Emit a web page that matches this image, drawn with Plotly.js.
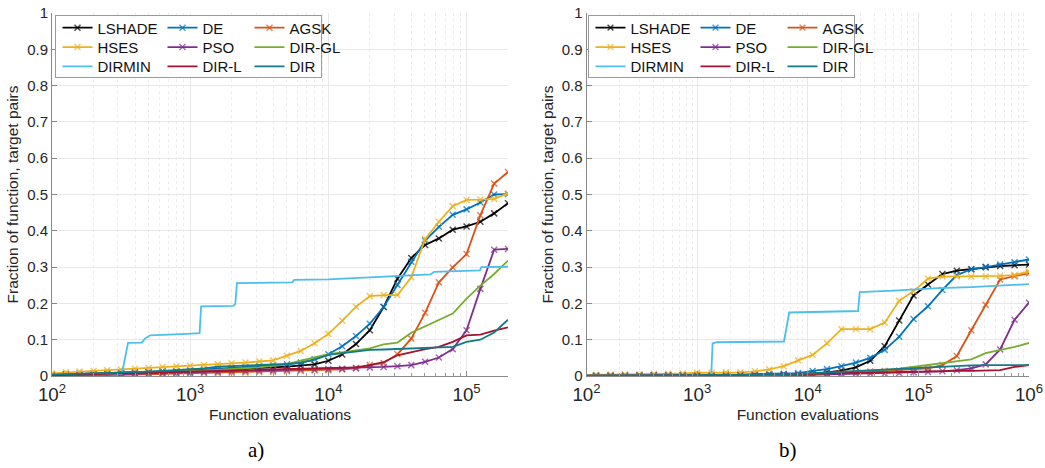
<!DOCTYPE html>
<html>
<head>
<meta charset="utf-8">
<script src="https://cdn.plot.ly/plotly-3.0.1.min.js"></script>
<style>html,body{margin:0;padding:0;background:#fff;}#chart{width:1045px;height:468px;}</style>
</head>
<body>
<div id="chart"></div>
<script>
// ---- data ----
const seriesNames = ["LSHADE","DE","AGSK","HSES","PSO","DIR-GL","DIRMIN","DIR-L","DIR"];
const seriesColors = ["#000000","#0072BD","#D95319","#EDB120","#7E2F8E","#77AC30","#4DBEEE","#A2142F","#137A87"];
const withMarkers = [true,true,true,true,true,false,false,false,false];

// panel a) evaluation grid
const xA = [100,126,158,200,251,316,398,501,631,794,1000,1259,1585,1995,2512,3162,3981,5012,6310,7943,10000,12589,15849,19953,25119,31623,39811,50119,63096,79433,100000,125893,158489,199526];
const LSHADE_a = [0.004,0.005,0.006,0.007,0.008,0.009,0.010,0.011,0.012,0.013,0.014,0.016,0.017,0.019,0.020,0.022,0.024,0.026,0.028,0.032,0.042,0.059,0.088,0.126,0.190,0.268,0.325,0.361,0.379,0.403,0.412,0.425,0.448,0.476];
const DE_a = [0.003,0.004,0.005,0.006,0.007,0.008,0.010,0.011,0.013,0.014,0.016,0.018,0.020,0.022,0.025,0.028,0.030,0.032,0.037,0.046,0.060,0.082,0.110,0.144,0.190,0.251,0.315,0.373,0.411,0.444,0.459,0.478,0.500,0.501];
const AGSK_a = [0.001,0.001,0.002,0.002,0.003,0.003,0.004,0.005,0.005,0.006,0.007,0.008,0.008,0.009,0.010,0.011,0.012,0.013,0.014,0.015,0.016,0.018,0.021,0.030,0.036,0.060,0.103,0.174,0.258,0.299,0.336,0.443,0.530,0.562];
const HSES_a = [0.007,0.010,0.012,0.014,0.016,0.018,0.020,0.022,0.025,0.027,0.028,0.030,0.032,0.035,0.037,0.040,0.043,0.056,0.069,0.090,0.116,0.152,0.191,0.220,0.223,0.223,0.272,0.377,0.425,0.468,0.485,0.486,0.488,0.503];
const PSO_a = [0.000,0.001,0.002,0.003,0.004,0.005,0.006,0.007,0.008,0.009,0.010,0.011,0.012,0.013,0.014,0.015,0.016,0.017,0.018,0.018,0.019,0.020,0.022,0.023,0.025,0.027,0.030,0.039,0.051,0.074,0.126,0.240,0.348,0.350];
const DIRGL_a = [0.003,0.004,0.005,0.006,0.007,0.008,0.009,0.010,0.011,0.012,0.014,0.015,0.017,0.019,0.021,0.024,0.028,0.033,0.042,0.052,0.060,0.065,0.071,0.076,0.087,0.092,0.119,0.136,0.153,0.172,0.213,0.249,0.281,0.318];
const DIRL_a = [0.002,0.003,0.004,0.005,0.006,0.007,0.008,0.009,0.010,0.011,0.012,0.013,0.014,0.015,0.016,0.017,0.018,0.019,0.020,0.020,0.021,0.022,0.024,0.030,0.038,0.057,0.066,0.074,0.080,0.094,0.112,0.114,0.125,0.134];
const DIR_a = [0.004,0.005,0.006,0.007,0.008,0.009,0.010,0.012,0.014,0.016,0.018,0.021,0.026,0.027,0.029,0.030,0.031,0.033,0.036,0.045,0.058,0.062,0.068,0.072,0.073,0.074,0.075,0.076,0.079,0.080,0.094,0.100,0.120,0.155];
const DIRMIN_a_x = [100,320,355,447,470,513,950,1170,1200,2050,2120,2180,5500,5650,10000,30000,55000,58000,125000,128000,199526];
const DIRMIN_a = [0.004,0.005,0.091,0.092,0.103,0.112,0.116,0.118,0.192,0.193,0.198,0.256,0.258,0.265,0.266,0.276,0.280,0.287,0.291,0.300,0.301];

// panel b) evaluation grid
const xB = [100,122,165,223,301,406,548,741,1000,1350,1823,2462,3324,4489,6061,8185,11052,14924,20151,27211,36742,49614,66993,90460,122151,164937,222713,300750,406087,548326,740400,1000000];
const LSHADE_b = [0.001,0.001,0.001,0.001,0.001,0.002,0.002,0.002,0.002,0.002,0.003,0.003,0.003,0.004,0.004,0.004,0.006,0.010,0.015,0.024,0.042,0.082,0.153,0.222,0.252,0.281,0.290,0.294,0.300,0.303,0.305,0.307];
const DE_b = [0.002,0.002,0.002,0.002,0.002,0.002,0.003,0.003,0.003,0.003,0.004,0.004,0.005,0.006,0.006,0.008,0.014,0.019,0.027,0.037,0.050,0.072,0.108,0.157,0.192,0.237,0.278,0.294,0.300,0.307,0.313,0.321];
const AGSK_b = [0.001,0.001,0.001,0.001,0.001,0.001,0.001,0.001,0.001,0.002,0.002,0.002,0.002,0.002,0.003,0.003,0.005,0.006,0.008,0.010,0.012,0.014,0.015,0.018,0.021,0.030,0.055,0.126,0.196,0.266,0.275,0.283];
const HSES_b = [0.003,0.003,0.004,0.005,0.005,0.006,0.006,0.007,0.009,0.009,0.010,0.010,0.013,0.018,0.027,0.043,0.058,0.090,0.129,0.129,0.129,0.147,0.207,0.234,0.268,0.274,0.274,0.274,0.274,0.276,0.278,0.288];
const PSO_b = [0.000,0.000,0.000,0.000,0.001,0.001,0.001,0.001,0.001,0.001,0.001,0.002,0.002,0.002,0.002,0.002,0.003,0.004,0.005,0.006,0.006,0.007,0.008,0.010,0.011,0.013,0.016,0.021,0.032,0.073,0.155,0.202];
const DIRGL_b = [0.001,0.001,0.001,0.001,0.001,0.001,0.002,0.002,0.002,0.002,0.003,0.003,0.003,0.004,0.004,0.005,0.006,0.007,0.009,0.011,0.013,0.016,0.020,0.025,0.031,0.035,0.040,0.046,0.063,0.071,0.080,0.091];
const DIRL_b = [0.001,0.001,0.001,0.001,0.002,0.002,0.002,0.002,0.003,0.003,0.003,0.003,0.004,0.004,0.004,0.005,0.006,0.007,0.008,0.009,0.010,0.011,0.012,0.013,0.013,0.014,0.014,0.014,0.014,0.016,0.025,0.030];
const DIR_b = [0.001,0.001,0.001,0.001,0.001,0.001,0.002,0.002,0.002,0.003,0.003,0.003,0.004,0.004,0.005,0.006,0.008,0.010,0.012,0.014,0.016,0.018,0.020,0.022,0.024,0.026,0.028,0.029,0.030,0.030,0.030,0.030];
const DIRMIN_b_x = [100,1340,1380,1500,6100,6800,28500,29500,60000,150000,300000,550000,1000000];
const DIRMIN_b = [0.001,0.001,0.090,0.093,0.095,0.175,0.179,0.231,0.235,0.242,0.245,0.249,0.253];

const panelA = {x:[xA,xA,xA,xA,xA,xA,DIRMIN_a_x,xA,xA], y:[LSHADE_a,DE_a,AGSK_a,HSES_a,PSO_a,DIRGL_a,DIRMIN_a,DIRL_a,DIR_a]};
const panelB = {x:[xB,xB,xB,xB,xB,xB,DIRMIN_b_x,xB,xB], y:[LSHADE_b,DE_b,AGSK_b,HSES_b,PSO_b,DIRGL_b,DIRMIN_b,DIRL_b,DIR_b]};
const panelLabels = ["a)","b)"];
const yTicks = [0,0.1,0.2,0.3,0.4,0.5,0.6,0.7,0.8,0.9,1];

// ---- build ----
const FONT = "Liberation Sans, Arial, Helvetica, sans-serif";
const TXT = "#262626";
const colWidth = [60, 42, 50];
const traces = [];
function addPanel(p, xa, ya, legendBase, firstMarkerHidden) {
  for (let i = 0; i < seriesNames.length; i++) {
    const idx = legendBase + Math.floor(i / 3);
    const t = {
      type: "scatter", x: p.x[i], y: p.y[i], name: seriesNames[i],
      xaxis: xa, yaxis: ya,
      mode: withMarkers[i] ? "lines+markers" : "lines",
      line: {color: seriesColors[i], width: 1.8},
      legend: idx === 1 ? "legend" : "legend" + idx,
      legendwidth: colWidth[i % 3],
      hoverinfo: "skip"
    };
    if (withMarkers[i]) {
      const sizes = p.x[i].map((v, k) => (firstMarkerHidden && k === 0) ? 0 : 6);
      t.marker = {symbol: "x-thin-open", size: sizes, color: seriesColors[i], line: {width: 1.5, color: seriesColors[i]}};
    }
    traces.push(t);
  }
}
// legend-frame subplots (no data, only their mirrored axis lines and white background)
const frameTraces = [
  {type: "scatter", x: [], y: [], xaxis: "x3", yaxis: "y3", showlegend: false, hoverinfo: "skip"},
  {type: "scatter", x: [], y: [], xaxis: "x4", yaxis: "y4", showlegend: false, hoverinfo: "skip"}
];
addPanel(panelA, "x", "y", 1, false);
addPanel(panelB, "x2", "y2", 4, true);

const L = 52, R = 16, T = 11, B = 92, W = 1045, H = 468;
const PW = W - L - R, PH = H - T - B;
const px = v => (v - L) / PW;
const py = v => (H - B - v) / PH;

function xaxisCfg(range, domain, anchor) {
  return {
    type: "log", range: range, domain: domain, anchor: anchor,
    dtick: 1, exponentformat: "power",
    showgrid: true, gridcolor: "#e8e8e8", gridwidth: 1,
    minor: {dtick: "D1", showgrid: true, gridcolor: "#ececec", griddash: "dot", ticks: "inside", ticklen: 3, tickcolor: "#999"},
    ticks: "inside", ticklen: 5, tickcolor: "#888",
    showline: true, linecolor: "#8a8a8a", linewidth: 1, zeroline: false,
    tickfont: {family: FONT, size: 15, color: TXT},
    ticklabelstandoff: 2,
    title: {text: "Function evaluations", font: {family: FONT, size: 15.5, color: TXT}, standoff: 5},
    fixedrange: true
  };
}
function yaxisCfg(anchor) {
  return {
    range: [0, 1], domain: [0, 1], anchor: anchor,
    tickvals: yTicks, ticktext: yTicks.map(v => String(v)),
    showgrid: true, gridcolor: "#e8e8e8",
    ticks: "inside", ticklen: 5, tickcolor: "#888",
    showline: true, linecolor: "#8a8a8a", linewidth: 1, zeroline: false,
    tickfont: {family: FONT, size: 15, color: TXT},
    title: {text: "Fraction of function, target pairs", font: {family: FONT, size: 15.5, color: TXT}, standoff: 4},
    fixedrange: true
  };
}
function frameAxis(domain, anchor) {
  return {domain: domain, anchor: anchor, range: [0, 1], showline: true, mirror: true,
    linecolor: "#9a9a9a", linewidth: 1, showgrid: false, zeroline: false,
    showticklabels: false, ticks: "", fixedrange: true};
}

const rowsY = [py(26), py(45.5), py(65)];
const legX = [px(57.5), px(590.5)];
function legendCfg(xp, yp) {
  return {orientation: "h", x: xp, y: yp, xanchor: "left", yanchor: "middle",
    bgcolor: "rgba(0,0,0,0)", borderwidth: 0, font: {family: FONT, size: 15, color: "#111"},
    itemclick: false, itemdoubleclick: false, tracegroupgap: 0};
}

const layout = {
  width: W, height: H,
  margin: {l: L, r: R, t: T, b: B, pad: 0},
  paper_bgcolor: "#ffffff", plot_bgcolor: "#ffffff",
  showlegend: true,
  xaxis: xaxisCfg([2, Math.log10(199526)], [0, px(508)], "y"),
  yaxis: yaxisCfg("x"),
  xaxis2: xaxisCfg([2, 6], [px(586.5), 1], "y2"),
  yaxis2: yaxisCfg("x2"),
  xaxis3: frameAxis([px(56), px(321)], "y3"),
  yaxis3: frameAxis([py(75), py(14)], "x3"),
  xaxis4: frameAxis([px(589), px(854)], "y4"),
  yaxis4: frameAxis([py(75), py(14)], "x4"),
  legend: legendCfg(legX[0], rowsY[0]),
  legend2: legendCfg(legX[0], rowsY[1]),
  legend3: legendCfg(legX[0], rowsY[2]),
  legend4: legendCfg(legX[1], rowsY[0]),
  legend5: legendCfg(legX[1], rowsY[1]),
  legend6: legendCfg(legX[1], rowsY[2]),
  annotations: [
    {text: panelLabels[0], xref: "paper", yref: "paper", x: px(256), y: py(450), showarrow: false,
      xanchor: "center", yanchor: "middle", font: {family: "Liberation Serif, Times New Roman, serif", size: 21, color: "#000"}},
    {text: panelLabels[1], xref: "paper", yref: "paper", x: px(788), y: py(450), showarrow: false,
      xanchor: "center", yanchor: "middle", font: {family: "Liberation Serif, Times New Roman, serif", size: 21, color: "#000"}}
  ]
};

Plotly.newPlot("chart", traces.concat(frameTraces), layout, {displayModeBar: false, staticPlot: true, responsive: false});
</script>
</body>
</html>
